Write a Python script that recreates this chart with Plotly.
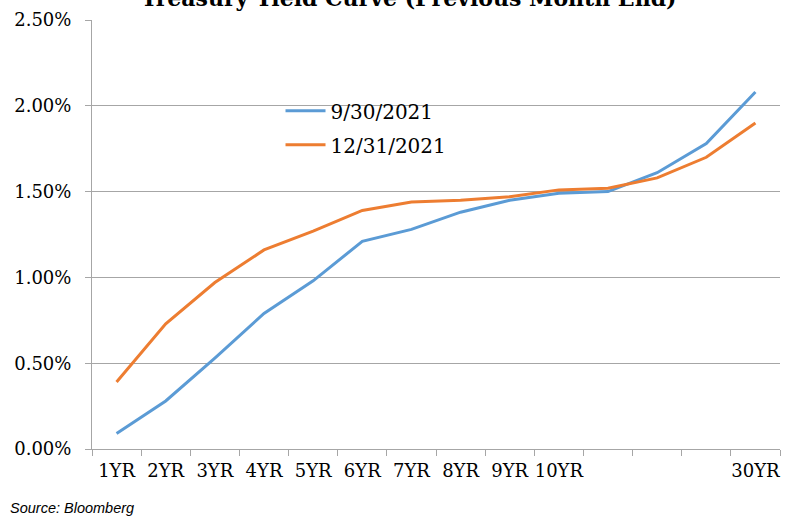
import plotly.graph_objects as go

categories = ["1YR", "2YR", "3YR", "4YR", "5YR", "6YR", "7YR", "8YR", "9YR", "10YR",
              "15YR", "20YR", "25YR", "30YR"]
tick_labels = ["1YR", "2YR", "3YR", "4YR", "5YR", "6YR", "7YR", "8YR", "9YR", "10YR",
               "", "", "", "30YR"]
sep_2021 = [0.09, 0.28, 0.53, 0.79, 0.98, 1.21, 1.28, 1.38, 1.45, 1.49, 1.50, 1.61, 1.78, 2.08]
dec_2021 = [0.39, 0.73, 0.97, 1.16, 1.27, 1.39, 1.44, 1.45, 1.47, 1.51, 1.52, 1.58, 1.70, 1.90]
y_ticks = [0, 0.5, 1.0, 1.5, 2.0, 2.5]
y_tick_labels = ["0.00%", "0.50%", "1.00%", "1.50%", "2.00%", "2.50%"]

serif = "DejaVu Serif"

fig = go.Figure()
fig.add_trace(go.Scatter(x=categories, y=sep_2021, mode="lines", name="9/30/2021",
                         line=dict(color="#5B9BD5", width=3), legendgroup="a"))
fig.add_trace(go.Scatter(x=categories, y=dec_2021, mode="lines", name="12/31/2021",
                         line=dict(color="#ED7D31", width=3), legendgroup="b"))

fig.update_layout(
    width=795, height=516,
    margin=dict(l=92, r=15, t=20, b=67, autoexpand=False),
    paper_bgcolor="white", plot_bgcolor="white",
    font=dict(family=serif, size=17, color="black"),
    showlegend=True,
    legend=dict(x=0.274, y=0.834, xanchor="left", yanchor="top",
                font=dict(family=serif, size=20, color="black"),
                bgcolor="rgba(0,0,0,0)", traceorder="grouped", tracegroupgap=5,
                itemwidth=40),
    xaxis=dict(type="category", categoryorder="array", categoryarray=categories,
               tickmode="array", tickvals=categories, ticktext=tick_labels,
               tickson="boundaries", ticks="outside", ticklen=6, tickcolor="#A6A6A6",
               showline=True, linecolor="#A6A6A6", linewidth=1, tickangle=0,
               showgrid=False, range=[-0.5, 13.5], automargin=False,
               ticklabelstandoff=5,
               tickfont=dict(family=serif, size=18, color="black")),
    yaxis=dict(range=[0, 2.5], tickmode="array", tickvals=y_ticks, ticktext=y_tick_labels,
               ticks="outside", ticklen=6, tickcolor="#A6A6A6", automargin=False,
               showline=True, linecolor="#A6A6A6", linewidth=1, ticklabelstandoff=10,
               showgrid=True, gridcolor="#A6A6A6", gridwidth=1, zeroline=False,
               tickfont=dict(family=serif, size=18, color="black")),
)

fig.add_annotation(text="<b>Treasury Yield Curve (Previous Month End)</b>",
                   xref="paper", yref="paper", x=0.46, y=1.016,
                   xanchor="center", yanchor="bottom", showarrow=False,
                   font=dict(family=serif, size=22, color="black"))
fig.add_annotation(text="<i>Source: Bloomberg</i>", xref="paper", yref="paper",
                   x=-0.1225, y=-0.137, xanchor="left", yanchor="middle", showarrow=False,
                   font=dict(family="Liberation Sans", size=14.5, color="black"))

fig.write_html("out.html", config={"displayModeBar": False},
               post_script="document.body.style.margin='0';")
